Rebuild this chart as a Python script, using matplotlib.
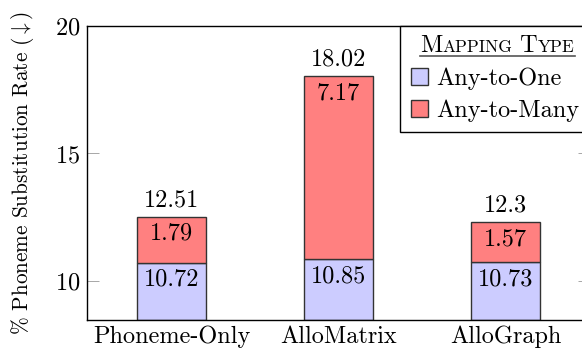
import matplotlib
matplotlib.use("Agg")
import matplotlib.pyplot as plt
from matplotlib.lines import Line2D
from matplotlib.patches import Patch
from matplotlib.transforms import IdentityTransform

plt.rcParams["font.family"] = ["cmr10", "DejaVu Serif"]
plt.rcParams["mathtext.fontset"] = "cm"
plt.rcParams["axes.formatter.use_mathtext"] = True

# data
models = ["Phoneme-Only", "AlloMatrix", "AlloGraph"]
any_to_one = [10.72, 10.85, 10.73]
any_to_many = [1.79, 7.17, 1.57]
totals = [12.51, 18.02, 12.3]
yticks = [10, 15, 20]

blue = "#ccccff"
red = "#ff8080"
edge = "#333333"
fs = 17.5

fig = plt.figure(figsize=(5.82, 3.5), dpi=100)
ax = fig.add_axes([87 / 582, 30 / 350, 503 / 582, 294 / 350])

x = list(range(len(models)))
w = 0.413
base = 8.47
ax.bar(x, [v - base for v in any_to_one], w, bottom=base, color=blue,
       edgecolor=edge, linewidth=1)
ax.bar(x, any_to_many, w, bottom=any_to_one, color=red,
       edgecolor=edge, linewidth=1)

for i in x:
    ax.annotate(f"{any_to_one[i]:.2f}", (i, any_to_one[i]), xytext=(0, -12),
                textcoords="offset points", ha="center", va="center", fontsize=fs)
    ax.annotate(f"{any_to_many[i]:.2f}", (i, totals[i]), xytext=(0, -12),
                textcoords="offset points", ha="center", va="center", fontsize=fs)
    ax.annotate(f"{totals[i]:g}", (i, totals[i]), xytext=(0, 12),
                textcoords="offset points", ha="center", va="center", fontsize=fs)

ax.set_xlim(-0.506, 2.506)
ax.set_ylim(base, 20)
ax.set_yticks(yticks)
ax.set_xticks(x)
ax.set_xticklabels(models, fontsize=fs)
ax.tick_params(axis="x", length=0, pad=4)
ax.tick_params(axis="y", direction="in", length=8.5, width=0.6, color="#999999",
               right=True, labelsize=fs, pad=5)
for s in ax.spines.values():
    s.set_linewidth(1)
ax.set_ylabel(r"% Phoneme Substitution Rate ($\downarrow$)", fontsize=15.3)
ax.yaxis.set_label_coords(-0.102, 0.5)

handles = [Patch(facecolor=blue, edgecolor=edge, label="Any-to-One"),
           Patch(facecolor=red, edgecolor=edge, label="Any-to-Many")]
leg = ax.legend(handles=handles, loc="upper right", fontsize=fs, title="M",
                title_fontsize=fs, fancybox=False, framealpha=1, edgecolor="black",
                borderaxespad=0, handlelength=0.72, handleheight=0.72,
                handletextpad=0.35, borderpad=0.42, labelspacing=0.38)
leg.get_frame().set_linewidth(1)
leg.get_title().set_color("none")

# small caps title with underline
fig.canvas.draw()
r = fig.canvas.get_renderer()
lb = leg.get_window_extent(r)
tb = leg.get_title().get_window_extent(r)
leg.get_title().set_text(" ")
pieces = [("M", fs), ("APPING", 12.5), (" T", fs), ("YPE", 12.5)]
ty = tb.y0 + 6
cx = (lb.x0 + lb.x1) / 2
texts = []
xx = 0
for s, size in pieces:
    t = fig.text(xx, ty, s, fontsize=size, transform=IdentityTransform(),
                 va="baseline", ha="left")
    texts.append(t)
    xx += t.get_window_extent(r).width
start = cx - xx / 2 + 2
xx = start
for t in texts:
    t.set_x(xx)
    xx += t.get_window_extent(r).width
fig.add_artist(Line2D([start, xx], [ty - 4, ty - 4], color="#555555",
                      linewidth=1.2, transform=IdentityTransform()))

fig.savefig("out.png", dpi=100)
